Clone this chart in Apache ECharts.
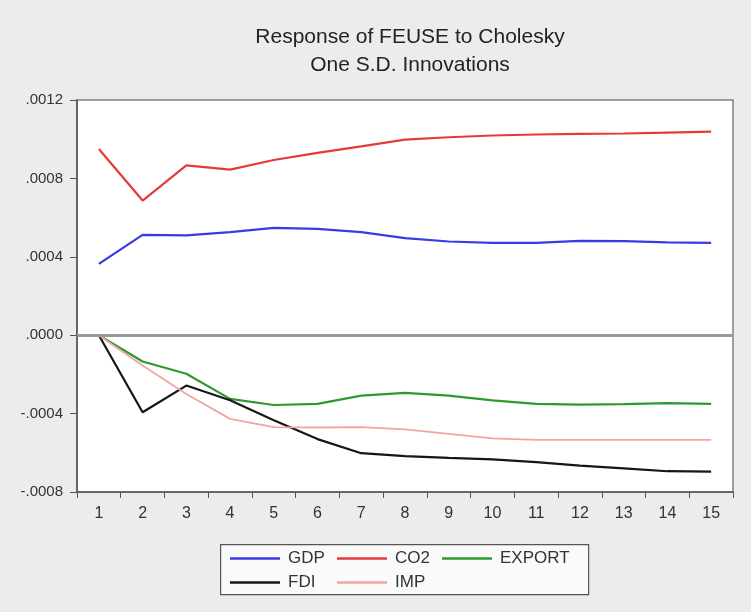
<!DOCTYPE html>
<html>
<head>
<meta charset="utf-8">
<script src="https://cdn.jsdelivr.net/npm/echarts@6/dist/echarts.min.js"></script>
<style>
html,body{margin:0;padding:0;background:#ececec;}
#chart{width:751px;height:612px;}
</style>
</head>
<body>
<div id="chart"></div>
<script>
const periods = ['1','2','3','4','5','6','7','8','9','10','11','12','13','14','15'];
const gdp    = [0.000364,0.000512,0.000509,0.000526,0.000548,0.000542,0.000526,0.000495,0.000478,0.000471,0.000471,0.000481,0.000480,0.000474,0.000471];
const co2    = [0.000950,0.000687,0.000866,0.000845,0.000894,0.000930,0.000963,0.000998,0.001010,0.001019,0.001024,0.001027,0.001029,0.001034,0.001039];
const exportS= [0,-0.000134,-0.000197,-0.000325,-0.000356,-0.000350,-0.000308,-0.000294,-0.000308,-0.000333,-0.000350,-0.000354,-0.000352,-0.000347,-0.000350];
const fdi    = [0,-0.000393,-0.000257,-0.000332,-0.000434,-0.000530,-0.000602,-0.000617,-0.000626,-0.000634,-0.000648,-0.000665,-0.000679,-0.000694,-0.000696];
const imp    = [0,-0.000155,-0.000300,-0.000427,-0.000469,-0.000471,-0.000469,-0.000481,-0.000503,-0.000526,-0.000534,-0.000534,-0.000534,-0.000534,-0.000534];

const FONT = '"Liberation Sans", Arial, sans-serif';
const chart = echarts.init(document.getElementById('chart'), null, {renderer:'canvas'});

function fmt(v){
  if (Math.abs(v) < 1e-12) return '.0000';
  const s = Math.abs(v).toFixed(4).replace(/^0/, '');
  return (v < 0 ? '-' : '') + s;
}

function mkLegend(name, left, top){
  return {
    data:[name], left:left, top:top, icon:'rect', itemWidth:50, itemHeight:2.5,
    padding:0, itemGap:0, selectedMode:false,
    textStyle:{fontFamily:FONT, fontSize:17, color:'#333', padding:[0,0,0,3]}
  };
}

function line(name, data, color, width){
  return {
    name:name, type:'line', data:data, symbol:'none', smooth:false,
    lineStyle:{color:color, width:width}, itemStyle:{color:color},
    z:3, animation:false
  };
}

const series = [
  line('GDP', gdp, '#3a3ae6', 2.2),
  line('CO2', co2, '#e63a3a', 2.2),
  line('EXPORT', exportS, '#2e9a2e', 2.2),
  line('FDI', fdi, '#161616', 2.2),
  line('IMP', imp, '#f2a4a4', 1.8)
];
series[0].markLine = {
  silent:true, symbol:'none', animation:false,
  label:{show:false},
  lineStyle:{color:'#9a9a9a', width:3, type:'solid'},
  data:[{yAxis:0}]
};

chart.setOption({
  backgroundColor:'#ececec',
  animation:false,
  title:{
    text:'Response of FEUSE to Cholesky\nOne S.D. Innovations',
    left:405, top:18, textAlign:'center',
    textStyle:{fontFamily:FONT, fontSize:21, fontWeight:'normal', color:'#222', lineHeight:28}
  },
  grid:{left:77, right:18, top:100, bottom:120, show:true, backgroundColor:'#ffffff', borderColor:'#808080', borderWidth:1.5},
  xAxis:{
    type:'category', data:periods, boundaryGap:true,
    axisLine:{onZero:false, lineStyle:{color:'#555', width:1.5}},
    axisTick:{show:true, alignWithLabel:false, length:6, lineStyle:{color:'#555'}},
    axisLabel:{fontFamily:FONT, fontSize:16, color:'#333', margin:14, interval:0},
    splitLine:{show:false}
  },
  yAxis:{
    type:'value', min:-0.0008, max:0.0012, interval:0.0004,
    axisLine:{show:true, lineStyle:{color:'#555', width:1.5}},
    axisTick:{show:true, length:7, lineStyle:{color:'#555'}},
    axisLabel:{fontFamily:FONT, fontSize:15, color:'#333', margin:14, formatter:fmt},
    splitLine:{show:false}
  },
  legend:[
    mkLegend('GDP', 230, 550),
    mkLegend('CO2', 337, 550),
    mkLegend('EXPORT', 442, 550),
    mkLegend('FDI', 230, 574),
    mkLegend('IMP', 337, 574)
  ],
  graphic:[{
    type:'rect', left:220, top:544, z:-1,
    shape:{width:368, height:50},
    style:{fill:'#fafafa', stroke:'#555', lineWidth:1.2}
  }],
  series:series
});
</script>
</body>
</html>
